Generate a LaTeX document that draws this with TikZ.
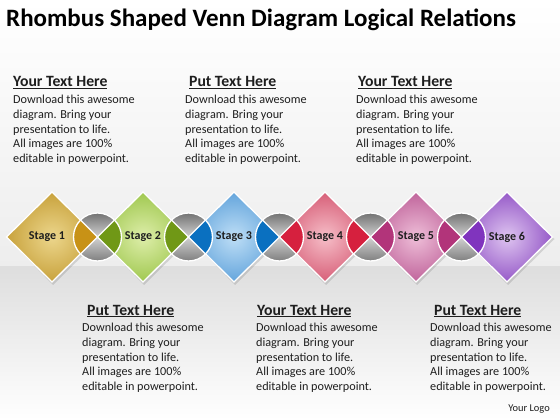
\documentclass[tikz,border=0pt]{standalone}
\usepackage{fontspec}
\setmainfont{Carlito}
\usetikzlibrary{calc}
\definecolor{goldL}{RGB}{236,214,140}\definecolor{goldO}{RGB}{200,162,60}\definecolor{goldD}{RGB}{200,146,22}
\definecolor{grnL}{RGB}{222,238,170}\definecolor{grnO}{RGB}{160,200,80}\definecolor{grnD}{RGB}{112,152,22}
\definecolor{bluL}{RGB}{190,222,246}\definecolor{bluO}{RGB}{100,165,220}\definecolor{bluD}{RGB}{10,112,192}
\definecolor{redL}{RGB}{246,190,200}\definecolor{redO}{RGB}{215,95,120}\definecolor{redD}{RGB}{214,32,62}
\definecolor{pnkL}{RGB}{238,190,216}\definecolor{pnkO}{RGB}{192,100,155}\definecolor{pnkD}{RGB}{178,52,122}
\definecolor{purL}{RGB}{222,196,240}\definecolor{purO}{RGB}{150,90,200}\definecolor{purD}{RGB}{128,52,190}
\definecolor{txt}{RGB}{30,30,30}
\tikzset{
  headtxt/.style={anchor=base west,font=\fontsize{15.7}{17}\selectfont\bfseries,text=txt,inner sep=0pt},
  bodytxt/.style={anchor=base west,font=\fontsize{12.2}{14}\selectfont,text=txt,inner sep=0pt},
  stagetxt/.style={font=\fontsize{12}{14}\selectfont\bfseries,text=txt,inner sep=0pt},
  rhomb/.style={draw=white,line width=1.3pt,line join=miter},
  ring/.style={draw=white,line width=1.3pt}
}
\newcommand{\txtblock}[5]{%
  \node[headtxt] (#1h) at (#2,#4) {\underline{#5}};
  \foreach \k/\ln in {0/Download this awesome,1/diagram. Bring your,2/presentation to life.,3/All images are 100\%,4/editable in powerpoint.}{
    \node[bodytxt] (#1l\k) at (#3,#4+16.5+14.8*\k) {\ln};
  }
}
\begin{document}
\begin{tikzpicture}[x=1pt,y=-1pt]
\useasboundingbox (0,0) rectangle (560,420);
% background
\shade[top color=white,bottom color=black!7] (0,0) rectangle (560,266);
\shade[top color=black!13,bottom color=white] (0,266) rectangle (560,420);
% title
\node[anchor=base west,font=\fontsize{25}{28}\selectfont\bfseries,inner sep=0pt] (title) at (6,27) {Rhombus Shaped Venn Diagram Logical Relations};
% text blocks
\txtblock{t1}{13}{13}{87}{Your Text Here}
\txtblock{t2}{189}{185}{87}{Put Text Here}
\txtblock{t3}{358}{356}{87}{Your Text Here}
\txtblock{b1}{87}{82}{315}{Put Text Here}
\txtblock{b2}{257}{256}{315}{Your Text Here}
\txtblock{b3}{434}{430}{315}{Put Text Here}
\node[anchor=base east,font=\fontsize{10.4}{12}\selectfont,text=txt,inner sep=0pt] (logo) at (550,411) {Your Logo};
% diamonds
\def\cy{237}\def\hw{45.5}\def\hh{45}
\foreach \i/\cx/\cl/\co in {1/52/goldL/goldO,2/143/grnL/grnO,3/234/bluL/bluO,4/325/redL/redO,5/416/pnkL/pnkO,6/507/purL/purO}{
  \fill[black,opacity=0.12] (\cx-\hw+2,\cy+2) -- (\cx+2,\cy-\hh+2) -- (\cx+\hw+2,\cy+2) -- (\cx+1,\cy+\hh+3) -- cycle;
  \shade[inner color=\cl,outer color=\co] (\cx-\hw,\cy) -- (\cx,\cy-\hh) -- (\cx+\hw,\cy) -- (\cx,\cy+\hh) -- cycle;
  \draw[rhomb] (\cx-\hw,\cy) coordinate (d\i w) -- (\cx,\cy-\hh) coordinate (d\i n) -- (\cx+\hw,\cy) coordinate (d\i e) -- (\cx,\cy+\hh) coordinate (d\i s) -- cycle;
}
% circles
\def\rr{24}
\foreach \j/\cx/\dl/\dr in {1/97.5/goldD/grnD,2/188.5/grnD/bluD,3/279.5/bluD/redD,4/370.5/redD/pnkD,5/461.5/pnkD/purD}{
  \begin{scope}
    \clip (\cx,\cy) circle (\rr);
    \shade[top color=black!55,bottom color=black!50,middle color=black!18] (\cx-\rr,\cy-\rr) rectangle (\cx+\rr,\cy+\rr);
    \fill[\dl] (\cx,\cy) -- (\cx-\rr,\cy-\rr) -- (\cx-\rr,\cy+\rr) -- cycle;
    \fill[\dr] (\cx,\cy) -- (\cx+\rr,\cy-\rr) -- (\cx+\rr,\cy+\rr) -- cycle;
    \draw[white,line width=1.3pt] (\cx-\rr,\cy-\rr) -- (\cx+\rr,\cy+\rr) (\cx-\rr,\cy+\rr) -- (\cx+\rr,\cy-\rr);
  \end{scope}
  \draw[ring] (\cx,\cy) circle (\rr);
}
% stage labels
\foreach \i/\cx in {1/47,2/143,3/234,4/325,5/416,6/507}{
  \node[stagetxt] (s\i) at (\cx,\cy) {Stage \i};
}
\end{tikzpicture}
\end{document}
